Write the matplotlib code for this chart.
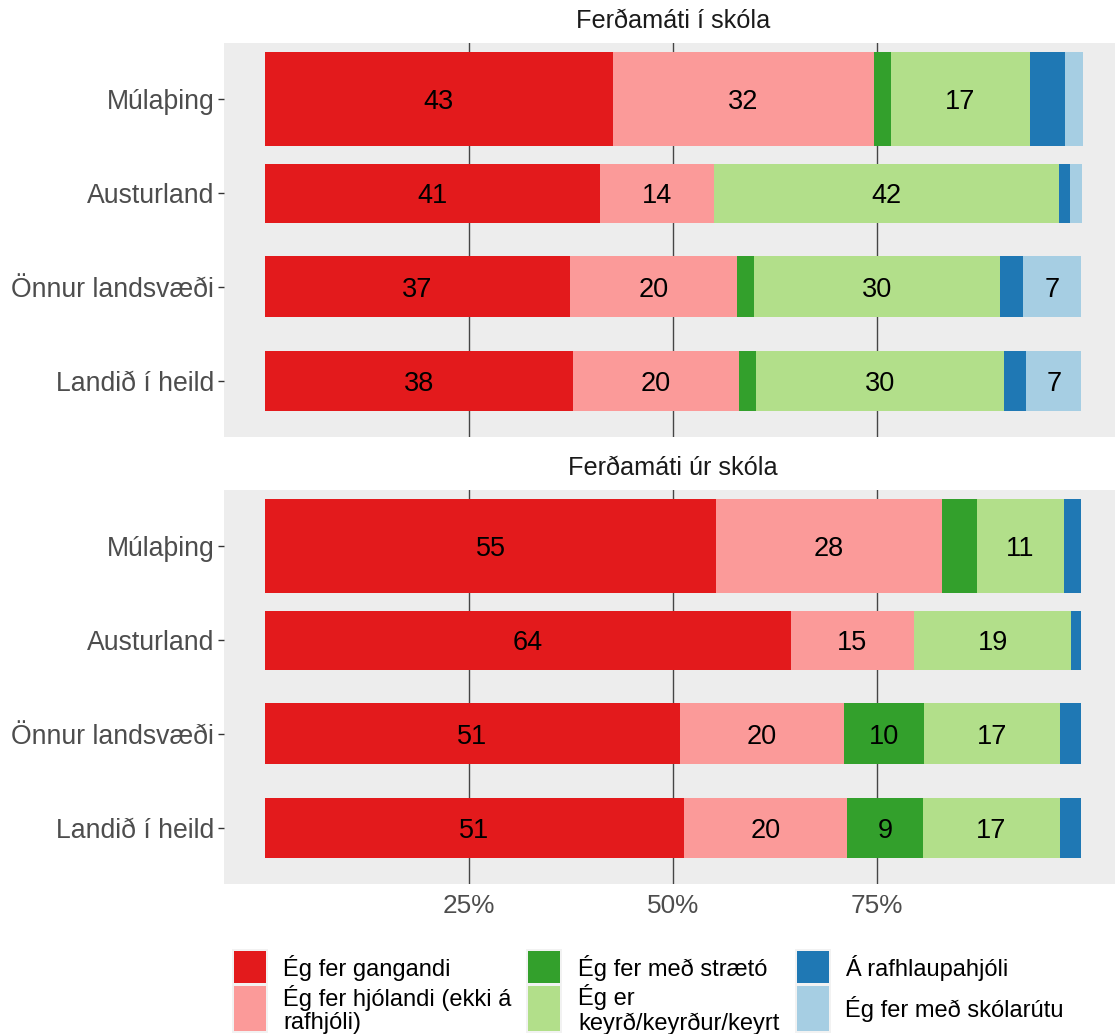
import matplotlib
matplotlib.use("Agg")
import matplotlib.pyplot as plt
from matplotlib.patches import Rectangle
import numpy as np

plt.rcParams['font.family'] = ['Liberation Sans', 'DejaVu Sans']

# ---------------- data ----------------
regions = ["Múlaþing", "Austurland", "Önnur landsvæði", "Landið í heild"]
modes = ["Ég fer gangandi", "Ég fer hjólandi (ekki á\nrafhjóli)", "Ég fer með strætó",
         "Ég er\nkeyrð/keyrður/keyrt", "Á rafhlaupahjóli", "Ég fer með skólarútu"]
panel_titles = ["Ferðamáti í skóla", "Ferðamáti úr skóla"]

# shares (%) per region, order of modes as above
to_school = {
    "Ég fer gangandi":        [42.6, 41.0, 37.4, 37.7],
    "Ég fer hjólandi":        [32.0, 14.0, 20.4, 20.4],
    "Ég fer með strætó":      [2.1, 0.0, 2.1, 2.1],
    "Ég er keyrð":            [17.0, 42.3, 30.1, 30.3],
    "Á rafhlaupahjóli":       [4.3, 1.3, 2.9, 2.8],
    "Ég fer með skólarútu":   [2.2, 1.5, 7.1, 6.7],
}
from_school = {
    "Ég fer gangandi":        [55.3, 64.4, 50.9, 51.3],
    "Ég fer hjólandi":        [27.6, 15.1, 20.0, 20.0],
    "Ég fer með strætó":      [4.3, 0.0, 9.8, 9.3],
    "Ég er keyrð":            [10.7, 19.3, 16.7, 16.8],
    "Á rafhlaupahjóli":       [2.1, 1.2, 2.6, 2.6],
    "Ég fer með skólarútu":   [0.0, 0.0, 0.0, 0.0],
}
x_ticks = [0.25, 0.50, 0.75]
x_ticklabels = ["25%", "50%", "75%"]

# ---------------- style ----------------
colors = ["#E31A1C", "#FB9A99", "#33A02C", "#B2DF8A", "#1F78B4", "#A6CEE3"]
bar_heights = [1.0, 0.63, 0.65, 0.64]
panel_bg = "#EDEDED"

W, H = 1115, 1034
fig = plt.figure(figsize=(W / 100, H / 100), dpi=100)

def fx(px):
    return px / W

def fy(py):
    return 1 - py / H

ax_left = 224
ax_width = 898
panels = [(43, 437), (490, 884)]
datasets = [to_school, from_school]

for i, ((top, bot), data, title) in enumerate(zip(panels, datasets, panel_titles)):
    ax = fig.add_axes([fx(ax_left), fy(bot), ax_width / W, (bot - top) / H])
    ax.set_facecolor(panel_bg)
    for s in ax.spines.values():
        s.set_visible(False)
    ax.set_xlim(-0.05, 1.05)
    ax.set_ylim(0.4, 4.6)
    ax.set_axisbelow(True)
    ax.set_xticks(x_ticks)
    ax.grid(axis="x", color="#454545", linewidth=1.0)
    ax.grid(axis="y", visible=False)
    ypos = np.arange(len(regions), 0, -1)
    left = np.zeros(len(regions))
    for key, col in zip(data.keys(), colors):
        vals = np.array(data[key]) / 100.0
        ax.barh(ypos, vals, left=left, height=bar_heights, color=col, linewidth=0)
        for y, l, v in zip(ypos, left, vals):
            if v * 100 >= 5:
                ax.text(l + v / 2, y, f"{int(v * 100 + 0.5)}", ha="center",
                        va="center_baseline", fontsize=19.5, color="black")
        left = left + vals
    ax.set_yticks(ypos)
    ax.set_yticklabels(regions)
    ax.tick_params(axis="y", length=4, width=1.0, color="#333333", pad=3,
                   labelsize=19.2, labelcolor="#4D4D4D")
    if i == 0:
        ax.tick_params(axis="x", length=0, labelbottom=False)
    else:
        ax.set_xticklabels(x_ticklabels)
        ax.tick_params(axis="x", length=0, pad=7, labelsize=18.8, labelcolor="#4D4D4D")
    ax.text(0.5, 1 + 22 / (bot - top), title, transform=ax.transAxes, ha="center",
            va="center", fontsize=18.2, color="#1A1A1A")

# ---------------- legend ----------------
col_key_x = [234, 528, 797]
col_text_x = [283, 578, 845]
row_spans = [(951, 983), (986, 1031)]
key_w = 32
for idx, (lab, col) in enumerate(zip(modes, colors)):
    c, r = idx // 2, idx % 2
    y0, y1 = row_spans[r]
    kx = col_key_x[c]
    fig.add_artist(Rectangle((fx(kx - 2), fy(y1 + 2)), (key_w + 4) / W, (y1 - y0 + 4) / H,
                             transform=fig.transFigure, facecolor="#F2F2F2", edgecolor="none"))
    fig.add_artist(Rectangle((fx(kx), fy(y1)), key_w / W, (y1 - y0) / H,
                             transform=fig.transFigure, facecolor=col, edgecolor="none"))
    fig.text(fx(col_text_x[c]), fy((y0 + y1) / 2 + 1), lab, ha="left", va="center",
             fontsize=17, color="black", linespacing=1.1)

fig.savefig("out.png", dpi=100)
